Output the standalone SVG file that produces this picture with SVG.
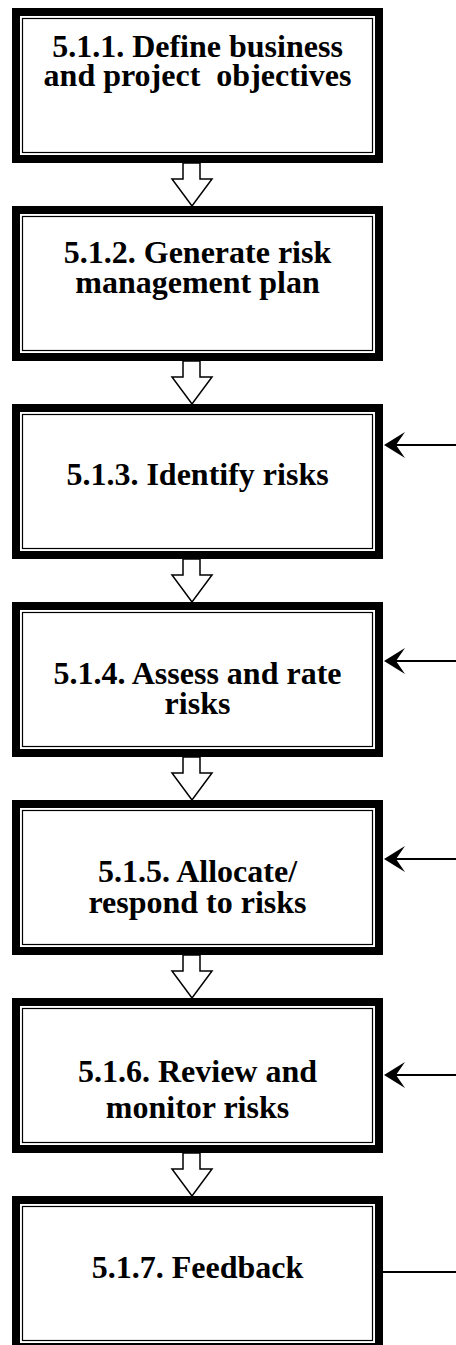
<svg xmlns="http://www.w3.org/2000/svg" width="456" height="1345" viewBox="0 0 456 1345">
<style>
.outer{fill:#fff;stroke:#000;stroke-width:8}
.inner{fill:none;stroke:#000;stroke-width:1.2}
.t{font-family:"Liberation Serif","Times New Roman",serif;font-weight:bold;font-size:32px;fill:#000;text-anchor:middle;white-space:pre}
.blk{fill:#fff;stroke:#000;stroke-width:1.5;stroke-linejoin:miter}
.ln{stroke:#000;stroke-width:2;fill:none}
.ah{fill:#000;stroke:none}
</style>
<rect width="456" height="1345" fill="#fff"/>
<g id="n1"><rect class="outer" x="16" y="12" width="363" height="147"/><rect class="inner" x="22.5" y="18.5" width="350" height="134"/>
<text class="t" x="197.5" y="57">5.1.1. Define business</text><text class="t" x="197.5" y="86" xml:space="preserve">and project  objectives</text></g>
<g id="n2"><rect class="outer" x="16" y="210" width="363" height="147"/><rect class="inner" x="22.5" y="216.5" width="350" height="134"/>
<text class="t" x="197.5" y="263">5.1.2. Generate risk</text><text class="t" x="197.5" y="293">management plan</text></g>
<g id="n3"><rect class="outer" x="16" y="408" width="363" height="147"/><rect class="inner" x="22.5" y="414.5" width="350" height="134"/>
<text class="t" x="197.5" y="485">5.1.3. Identify risks</text></g>
<g id="n4"><rect class="outer" x="16" y="606" width="363" height="147"/><rect class="inner" x="22.5" y="612.5" width="350" height="134"/>
<text class="t" x="197.5" y="684">5.1.4. Assess and rate</text><text class="t" x="197.5" y="714">risks</text></g>
<g id="n5"><rect class="outer" x="16" y="804" width="363" height="147"/><rect class="inner" x="22.5" y="810.5" width="350" height="134"/>
<text class="t" x="197.5" y="882">5.1.5. Allocate/</text><text class="t" x="197.5" y="913">respond to risks</text></g>
<g id="n6"><rect class="outer" x="16" y="1002" width="363" height="147"/><rect class="inner" x="22.5" y="1008.5" width="350" height="134"/>
<text class="t" x="197.5" y="1082">5.1.6. Review and</text><text class="t" x="197.5" y="1118">monitor risks</text></g>
<g id="n7"><rect class="outer" x="16" y="1200" width="363" height="147"/><rect class="inner" x="22.5" y="1206.5" width="350" height="134"/>
<text class="t" x="197.5" y="1278">5.1.7. Feedback</text></g>
<g id="connectors">
<path class="blk" d="M183,163 V179 H172 L192,206 L212,179 H200 V163 Z"/>
<path class="blk" d="M183,361 V377 H172 L192,404 L212,377 H200 V361 Z"/>
<path class="blk" d="M183,559 V575 H172 L192,602 L212,575 H200 V559 Z"/>
<path class="blk" d="M183,757 V773 H172 L192,800 L212,773 H200 V757 Z"/>
<path class="blk" d="M183,955 V971 H172 L192,998 L212,971 H200 V955 Z"/>
<path class="blk" d="M183,1153 V1169 H172 L192,1196 L212,1169 H200 V1153 Z"/>
<line class="ln" x1="395" y1="445" x2="456" y2="445"/><path class="ah" d="M384,445 L405,432 L396,445 L405,458 Z"/>
<line class="ln" x1="395" y1="661" x2="456" y2="661"/><path class="ah" d="M384,661 L405,648 L396,661 L405,674 Z"/>
<line class="ln" x1="395" y1="859" x2="456" y2="859"/><path class="ah" d="M384,859 L405,846 L396,859 L405,872 Z"/>
<line class="ln" x1="395" y1="1075" x2="456" y2="1075"/><path class="ah" d="M384,1075 L405,1062 L396,1075 L405,1088 Z"/>
<line class="ln" x1="383" y1="1272" x2="456" y2="1272"/>
</g>
</svg>
